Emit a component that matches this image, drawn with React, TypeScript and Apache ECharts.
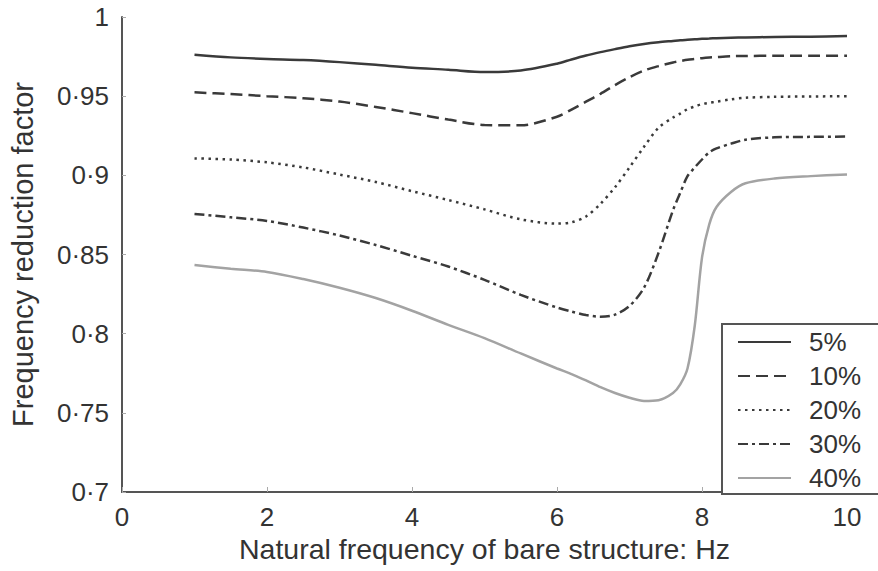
import React, { useEffect, useRef } from "react";
import * as echarts from "echarts";

const xs = [1, 1.5, 2, 2.5, 3, 3.5, 4, 4.5, 5, 5.5, 6, 6.2, 6.4, 6.6, 6.8, 7, 7.2, 7.4, 7.6, 7.7, 7.8, 7.9, 8, 8.1, 8.2, 8.4, 8.6, 9, 9.5, 10];

const y5 = [0.9762, 0.9745, 0.9735, 0.9728, 0.9715, 0.9698, 0.968, 0.9667, 0.9652, 0.9662, 0.9705, 0.9732, 0.9757, 0.9778, 0.9797, 0.9815, 0.983, 0.9841, 0.9849, 0.9853, 0.9856, 0.9859, 0.9862, 0.9864, 0.9866, 0.9869, 0.9871, 0.9874, 0.9876, 0.988];
const y10 = [0.9524, 0.9513, 0.95, 0.9487, 0.9466, 0.9432, 0.9393, 0.9352, 0.9318, 0.9316, 0.937, 0.9415, 0.9465, 0.9515, 0.957, 0.962, 0.9662, 0.969, 0.9713, 0.9722, 0.973, 0.9735, 0.974, 0.9744, 0.9747, 0.9752, 0.9754, 0.9755, 0.9755, 0.9755];
const y20 = [0.9107, 0.91, 0.9082, 0.905, 0.9005, 0.8958, 0.89, 0.8844, 0.8785, 0.8722, 0.8695, 0.8703, 0.874, 0.882, 0.8925, 0.905, 0.918, 0.93, 0.9365, 0.939, 0.9418, 0.9435, 0.945, 0.9458, 0.9465, 0.948, 0.949, 0.9496, 0.9498, 0.95];
const y30 = [0.8756, 0.8735, 0.8712, 0.867, 0.862, 0.856, 0.8492, 0.8424, 0.834, 0.8245, 0.8165, 0.814, 0.8118, 0.8107, 0.812, 0.8175, 0.829, 0.851, 0.878, 0.889, 0.8995, 0.905, 0.91, 0.9145, 0.917, 0.92, 0.9225, 0.924, 0.9243, 0.9245];
const y40 = [0.8434, 0.841, 0.839, 0.8345, 0.829, 0.8225, 0.8145, 0.8056, 0.7972, 0.7875, 0.778, 0.7745, 0.7705, 0.7662, 0.7625, 0.7595, 0.7575, 0.758, 0.7625, 0.768, 0.778, 0.805, 0.848, 0.869, 0.88, 0.8895, 0.895, 0.898, 0.8995, 0.9006];

const seriesNames = ["5%", "10%", "20%", "30%", "40%"];
const xAxisTitle = "Natural frequency of bare structure: Hz";
const yAxisTitle = "Frequency reduction factor";

const FONT = "'Liberation Sans', Arial, sans-serif";
const TEXT = "#333333";
const DARK = "#3a3a3a";

export default function App() {
  const ref = useRef<HTMLDivElement>(null);
  useEffect(() => {
    if (!ref.current) return;
    const chart = echarts.init(ref.current, null, { renderer: "svg" });
    const all = [y5, y10, y20, y30, y40];
    const styles = [
      { color: DARK, width: 2.5, type: "solid" as any },
      { color: DARK, width: 2.5, type: [12, 6] as any },
      { color: DARK, width: 2.5, type: [2.5, 4.5] as any },
      { color: DARK, width: 2.5, type: [10, 4, 3, 4] as any },
      { color: "#a3a3a3", width: 2.5, type: "solid" as any },
    ];
    const fmt = (v: number) => String(parseFloat(v.toFixed(2))).replace(".", "·");
    chart.setOption({
      animation: false,
      backgroundColor: "#ffffff",
      textStyle: { fontFamily: FONT },
      grid: { left: 116, right: 31, top: 17, bottom: 79, containLabel: false },
      xAxis: {
        type: "value",
        min: 0,
        max: 10,
        interval: 2,
        name: xAxisTitle,
        nameLocation: "middle",
        nameGap: 42,
        nameTextStyle: { fontSize: 28.5, color: TEXT, fontFamily: FONT },
        axisLine: { show: true, lineStyle: { color: "#555", width: 2 } },
        axisTick: { show: true, inside: true, length: 5, lineStyle: { color: "#aaa", width: 1 } },
        axisLabel: { fontSize: 26, color: TEXT, margin: 12, fontFamily: FONT },
        splitLine: { show: false },
      },
      yAxis: {
        type: "value",
        min: 0.7,
        max: 1,
        interval: 0.05,
        name: yAxisTitle,
        nameLocation: "middle",
        nameGap: 85,
        nameTextStyle: { fontSize: 29, color: TEXT, fontFamily: FONT },
        axisLine: { show: true, lineStyle: { color: "#555", width: 2 } },
        axisTick: { show: true, inside: true, length: 4, lineStyle: { color: "#aaa", width: 1 } },
        axisLabel: { fontSize: 26, color: TEXT, margin: 13, fontFamily: FONT, formatter: fmt },
        splitLine: { show: false },
      },
      legend: {
        orient: "vertical",
        left: 722,
        top: 324,
        data: seriesNames,
        itemWidth: 53,
        itemHeight: 20,
        itemGap: 8,
        padding: [5, 120, 3, 15],
        borderColor: "#555",
        borderWidth: 2,
        backgroundColor: "#fff",
        itemStyle: { opacity: 0 },
        textStyle: { fontSize: 26, lineHeight: 22, color: TEXT, fontFamily: FONT, padding: [0, 0, 0, 13] },
      },
      series: seriesNames.map((name, i) => ({
        name,
        type: "line",
        data: xs.map((x, j) => [x, all[i][j]]),
        showSymbol: false,
        symbol: "none",
        symbolSize: 0,
        smooth: 0.3,
        lineStyle: styles[i],
        itemStyle: { color: styles[i].color },
        z: 2,
      })),
    });
    return () => chart.dispose();
  }, []);
  return <div ref={ref} style={{ position: "absolute", left: 0, top: 0, width: 878, height: 571 }} />;
}
